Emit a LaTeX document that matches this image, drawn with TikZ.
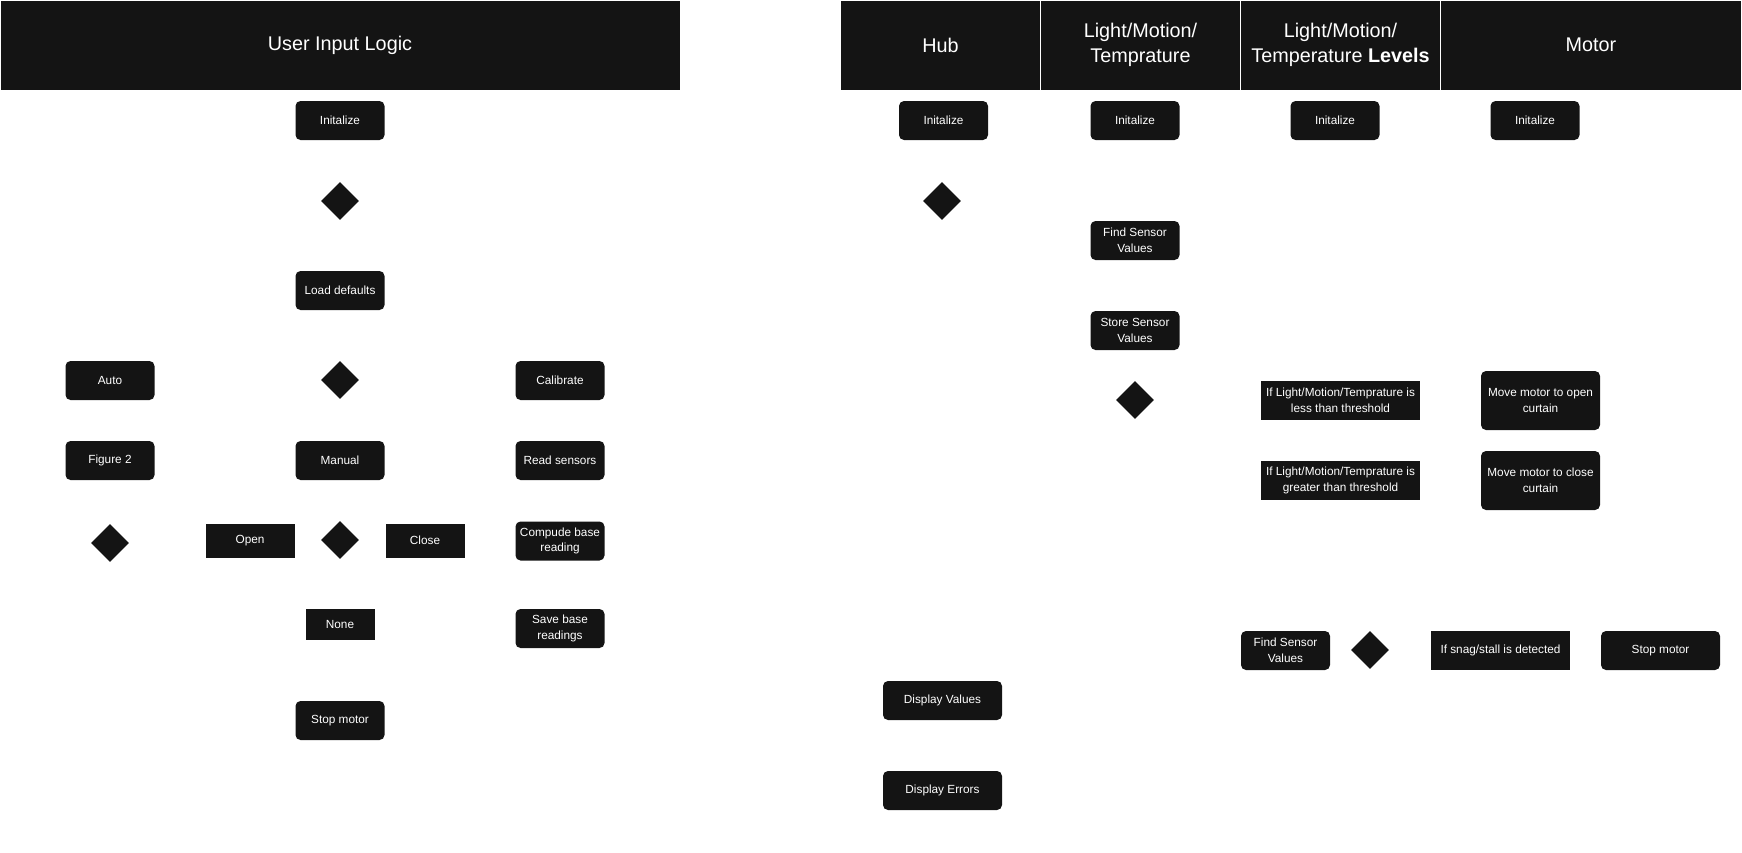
\documentclass[tikz,border=0pt]{standalone}
\usepackage{fontspec}
\setmainfont{Liberation Sans}
\usetikzlibrary{positioning}
\usetikzlibrary{shapes.geometric}
\definecolor{ink}{HTML}{141414}

\begin{document}
\begin{tikzpicture}[x=1pt,y=-1pt,
  lane/.style={fill=ink,draw=white,line width=1pt,text=white,
    font=\fontsize{19.8}{24.4}\selectfont,minimum height=90pt,inner sep=0pt,align=center},
  rbox/.style={fill=ink,rounded corners=5pt,text=white,
    font=\fontsize{11.8}{15.5}\selectfont,minimum width=89pt,minimum height=39pt,
    inner sep=2pt,align=center},
  sbox/.style={rbox,rounded corners=0pt},
  dec/.style={diamond,fill=ink,minimum width=38pt,minimum height=38pt,inner sep=0pt}]
  \useasboundingbox (0,0) rectangle (1742,852);

  % user input logic
  \node[lane,minimum width=680pt] (uil) at (340,45) {User Input Logic};
  \node[rbox] (uini) at (340,120.5) {Initalize};
  \node[dec] (ud1) at (340,201) {};
  \node[rbox] (load) at (340,290.5) {Load defaults};
  \node[dec] (ud2) at (340,380) {};
  \node[rbox] (auto) at (110,380.5) {Auto};
  \node[rbox] (calib) at (560,380.5) {Calibrate};
  \node[rbox] (fig) at (110,460.5) {Figure 2};
  \node[rbox] (manual) at (340,460.5) {Manual};
  \node[rbox] (read) at (560,460.5) {Read sensors};
  \node[dec] (ud3) at (110,543) {};
  \node[sbox,minimum height=34pt] (open) at (250,540.5) {Open};
  \node[dec] (ud4) at (340,540) {};
  \node[sbox,minimum width=79pt,minimum height=34pt] (close) at (425,540.5) {Close};
  \node[rbox] (base) at (560,541) {Compude base\\reading};
  \node[sbox,minimum width=69pt,minimum height=31pt] (none) at (340,624.5) {None};
  \node[rbox] (save) at (560,628.5) {Save base\\readings};
  \node[rbox] (ustop) at (340,720.5) {Stop motor};

  % swim lanes
  \node[lane,minimum width=200pt] (hub) at (940.5,45) {Hub};
  \node[lane,minimum width=200pt] (lmt) at (1140.5,45) {Light/Motion/\\Temprature};
  \node[lane,minimum width=200pt] (lvl) at (1340.5,45) {Light/Motion/\\Temperature \textbf{Levels}};
  \node[lane,minimum width=301pt] (mot) at (1591,45) {Motor};

  % hub
  \node[rbox] (hini) at (943.5,120.5) {Initalize};
  \node[dec] (hd) at (942,201) {};
  \node[rbox,minimum width=119pt] (dval) at (942.5,700.5) {Display Values};
  \node[rbox,minimum width=119pt] (derr) at (942.5,790.5) {Display Errors};

  % sensors
  \node[rbox] (lini) at (1135,120.5) {Initalize};
  \node[rbox] (find) at (1135,240.5) {Find Sensor\\Values};
  \node[rbox] (store) at (1135,330.5) {Store Sensor\\Values};
  \node[dec] (ld) at (1135,400) {};

  % levels
  \node[rbox] (vini) at (1335,120.5) {Initalize};
  \node[sbox,minimum width=159pt] (less) at (1340.5,400.5) {If Light/Motion/Temprature is\\less than threshold};
  \node[sbox,minimum width=159pt] (more) at (1340.5,480.5) {If Light/Motion/Temprature is\\greater than threshold};
  \node[rbox] (vfind) at (1285.5,650.5) {Find Sensor\\Values};
  \node[dec] (vd) at (1370,650) {};

  % motor
  \node[rbox] (mini) at (1535,120.5) {Initalize};
  \node[rbox,minimum width=119pt,minimum height=59pt] (mopen) at (1540.5,400.5) {Move motor to open\\curtain};
  \node[rbox,minimum width=119pt,minimum height=59pt] (mclose) at (1540.5,480.5) {Move motor to close\\curtain};
  \node[sbox,minimum width=139pt] (snag) at (1500.5,650.5) {If snag/stall is detected};
  \node[rbox,minimum width=119pt] (mstop) at (1660.5,650.5) {Stop motor};
\end{tikzpicture}
\end{document}
